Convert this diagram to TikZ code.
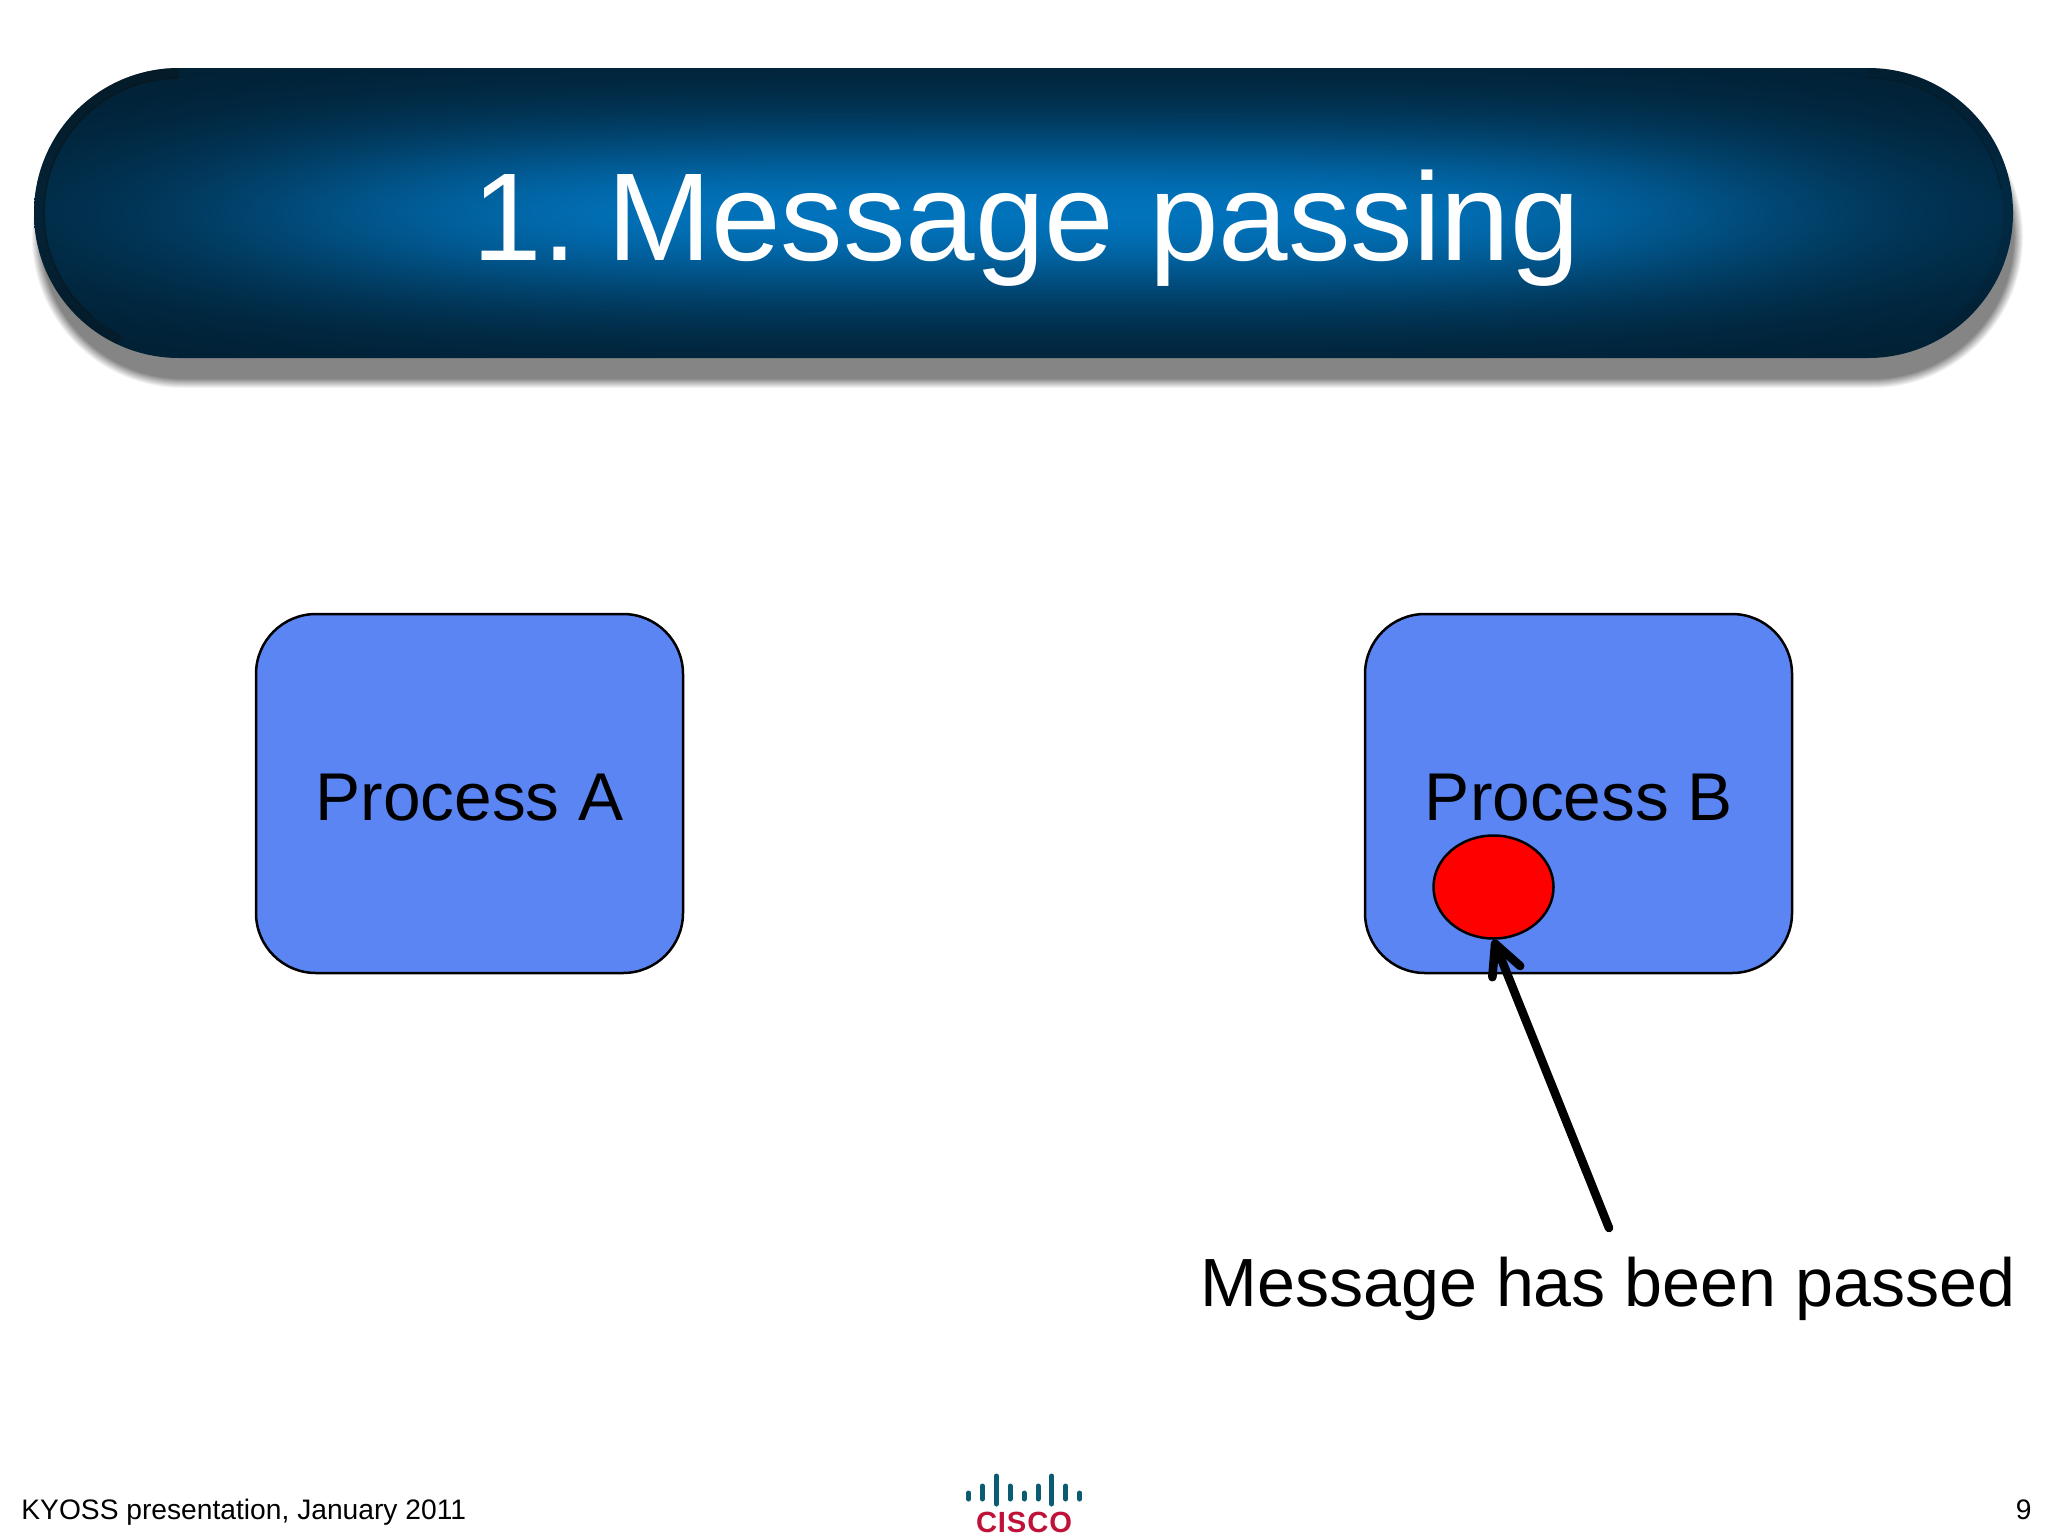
\documentclass[tikz,border=0pt]{standalone}
\usepackage{fontspec}
\setmainfont{Liberation Sans}
\usetikzlibrary{arrows.meta,shapes.geometric,calc}
% glow: t = exp(-2.6 v^2) * (0.1 + 0.9 exp(-2.6 u^4)); size 986bp x 144.5bp
\pgfdeclarefunctionalshading{pillglow}{\pgfpointorigin}{\pgfpoint{986bp}{144.5bp}}{}{%
  72.25 sub 72.25 div dup mul -2.6 mul 2.71828 exch exp
  exch
  493 sub 493 div dup mul dup mul -2.6 mul 2.71828 exch exp 0.9 mul 0.1 add
  mul
  dup 0.0 mul 0.004 add exch
  dup 0.33 mul 0.12 add exch
  0.54 mul 0.195 add
}
\definecolor{boxblue}{HTML}{5B85F2}
\definecolor{shadowgray}{HTML}{858585}
\definecolor{rimdark}{HTML}{08161D}
\definecolor{cisteal}{HTML}{0B5B72}
\definecolor{cisred}{HTML}{BF1238}
\tikzset{
  px/.style={x=0.5pt,y=-0.5pt},
  procbox/.style={draw=black,fill=boxblue,line width=1.25pt,rounded corners=30pt,minimum width=213.5pt,minimum height=179.5pt,inner sep=0pt},
  titletext/.style={font=\fontsize{62.5}{70}\selectfont,text=white,inner sep=0pt,anchor=base},
  proctext/.style={font=\fontsize{33.8}{40}\selectfont,text=black,inner sep=0pt,anchor=base},
  msgtext/.style={font=\fontsize{34.1}{40}\selectfont,text=black,inner sep=0pt,anchor=base},
  msgdot/.style={draw=black,fill=red,ellipse,line width=1.25pt,minimum width=60pt,minimum height=51.5pt,inner sep=0pt},
  pointer/.style={line width=4.3pt,line cap=round,-{Straight Barb[length=15pt,width=15pt,line width=4.3pt,round]}},
  foot/.style={font=\fontsize{14.1}{16}\selectfont,text=black,inner sep=0pt,anchor=base},
  bar/.style={line width=2.5pt,line cap=round,cisteal},
  logotext/.style={font=\fontsize{14.6}{16}\bfseries\addfontfeature{LetterSpace=3}\selectfont,text=cisred,inner sep=0pt,anchor=base},
}
\begin{document}
\begin{tikzpicture}[px]
\useasboundingbox (0,0) rectangle (2048,1536);
\fill[white] (0,0) rectangle (2048,1536);
% soft shadow
\foreach \w/\g in {6/10,5/20,4/30,3/40,2/50,1/60,0/70,-1/80,-2/90,-3/100}{
  \pgfmathsetmacro{\rad}{(145+\w)*0.5}
  \fill[shadowgray!\g!white,rounded corners=\rad pt] ({38-\w},{92-\w}) rectangle ({2017+\w},{382+\w});
}
% pill with glow
\begin{scope}
  \clip[rounded corners=72.5pt] (34,68) rectangle (2013,358);
  \node[inner sep=0pt,outer sep=0pt,anchor=center] (glow) at (1023.5,213) {\pgfuseshading{pillglow}};
  % darker rim of the ends
  \draw[rimdark,opacity=.45,line width=5pt] (179,73) arc[start angle=270,end angle=115,radius=140];
  \draw[rimdark,opacity=.15,line width=5pt] (1868,73) arc[start angle=-90,end angle=60,radius=140];
  \draw[rimdark,opacity=.7,line width=.7pt] (179,78) arc[start angle=270,end angle=130,radius=135];
  \draw[rimdark,opacity=.4,line width=.7pt] (1868,78) arc[start angle=-90,end angle=-10,radius=135];
\end{scope}
\node[titletext] (title) at (1026.5,260) {1.\kern-8pt{} Message passing};
% processes
\node[procbox] (procA) at (469.5,793.5) {};
\node[procbox] (procB) at (1578.5,793.5) {};
\node[proctext] (labA) at (469.5,820) {Process A};
\node[proctext] (labB) at (1579,820) {Process B};
\node[msgdot] (dot) at (1493.5,887) {};
\coordinate (tail) at (1609,1228);
\draw[pointer] (tail) -- (dot.south);
\node[msgtext] (msg) at (1608,1306) {Message has been passed};
% footer
\node[foot,anchor=base west] (footL) at (21,1519) {KYOSS presentation, January 2011};
\node[foot,anchor=base east] (footR) at (2032,1519) {9};
% logo
\foreach \x/\a/\b in {968.7/1493/1499,982.3/1486/1499,996.3/1476/1504,1010/1486/1499,1024/1493/1499,1038/1486/1499,1051.7/1476/1504,1065.7/1486/1499,1079.7/1493/1499}{
  \draw[bar] (\x,\a) -- (\x,\b);
}
\node[logotext] (cisco) at (1024,1532) {CISCO};
\end{tikzpicture}
\end{document}
